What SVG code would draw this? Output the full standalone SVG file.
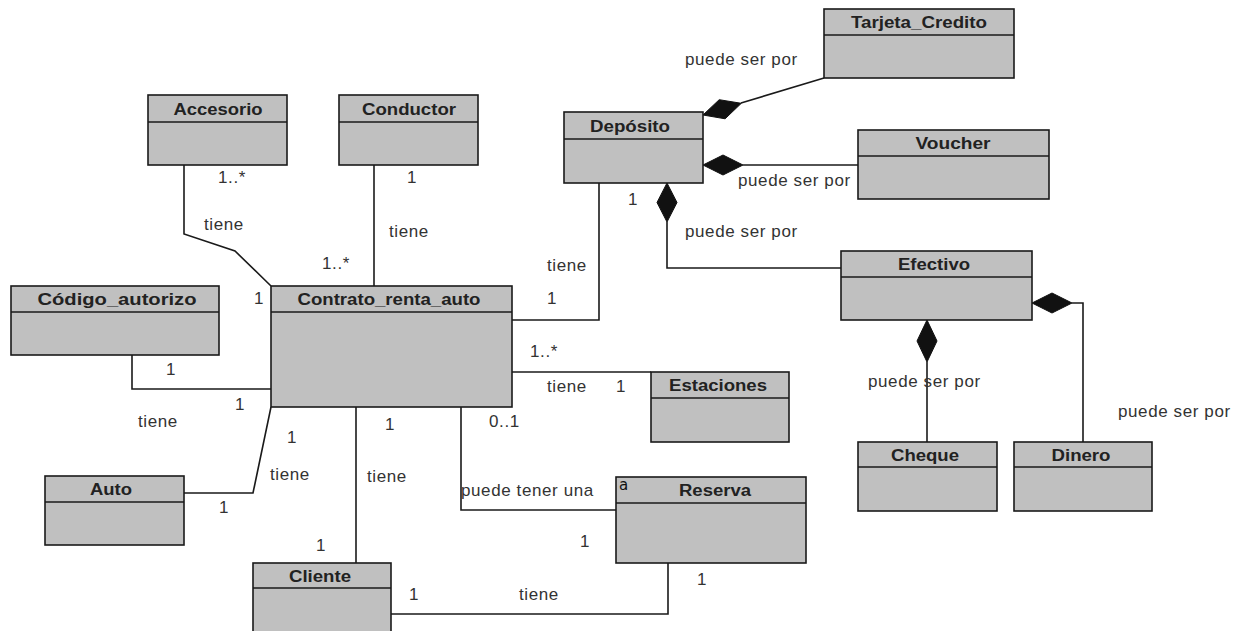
<svg xmlns="http://www.w3.org/2000/svg" width="1241" height="631" viewBox="0 0 1241 631">
  <style>
    .box { fill: #c0c0c0; stroke: #1a1a1a; stroke-width: 1.6; }
    .div { stroke: #1a1a1a; stroke-width: 1.6; }
    .name { font-family: "Liberation Sans", Arial, sans-serif; font-weight: bold; font-size: 16px; fill: #222; text-anchor: middle; }
    .lbl { font-family: "Liberation Sans", Arial, sans-serif; font-size: 17px; letter-spacing: 0.6px; fill: #333; }
    .edge { fill: none; stroke: #1a1a1a; stroke-width: 1.6; }
    .dia { fill: #111; stroke: #111; stroke-width: 1; }
  </style>
  <rect width="1241" height="631" fill="#ffffff"/>

  <!-- associations and compositions -->
  <g id="connectors">
    <polyline class="edge" points="184,165 184,234 235,251 271,286"/>
    <line class="edge" x1="374" y1="165" x2="374" y2="286"/>
    <polyline class="edge" points="132,355 132,389 271,389"/>
    <polyline class="edge" points="184,493 253,493 271,407"/>
    <line class="edge" x1="356" y1="407" x2="356" y2="563"/>
    <polyline class="edge" points="461,407 461,510 616,510"/>
    <polyline class="edge" points="391,614 668,614 668,563"/>
    <line class="edge" x1="512" y1="372" x2="651" y2="372"/>
    <polyline class="edge" points="512,320 599,320 599,183"/>
    <!-- Deposito compositions -->
    <line class="edge" x1="741" y1="103" x2="824" y2="78"/>
    <polygon class="dia" points="703,115 719.2,99.7 741.3,103.3 725.1,118.8"/>
    <line class="edge" x1="743" y1="165" x2="858" y2="165"/>
    <polygon class="dia" points="703,165 723,155 743,165 723,175"/>
    <polyline class="edge" points="667,222 667,268 841,268"/>
    <polygon class="dia" points="667,183 677,202.5 667,222 657,202.5"/>
    <!-- Efectivo compositions -->
    <line class="edge" x1="927" y1="362" x2="927" y2="442"/>
    <polygon class="dia" points="927,320 937,341 927,362 917,341"/>
    <polyline class="edge" points="1072,303 1083,303 1083,442"/>
    <polygon class="dia" points="1032,303 1052,293 1072,303 1052,313"/>
  </g>

  <!-- connector labels -->
  <g id="labels">
    <text class="lbl" x="218" y="183">1..*</text>
    <text class="lbl" x="204" y="230">tiene</text>
    <text class="lbl" x="254" y="304">1</text>
    <text class="lbl" x="407" y="183">1</text>
    <text class="lbl" x="389" y="237">tiene</text>
    <text class="lbl" x="322" y="269">1..*</text>
    <text class="lbl" x="547" y="271">tiene</text>
    <text class="lbl" x="547" y="304">1</text>
    <text class="lbl" x="530" y="357">1..*</text>
    <text class="lbl" x="547" y="392">tiene</text>
    <text class="lbl" x="616" y="392">1</text>
    <text class="lbl" x="489" y="427">0..1</text>
    <text class="lbl" x="166" y="375">1</text>
    <text class="lbl" x="235" y="410">1</text>
    <text class="lbl" x="138" y="427">tiene</text>
    <text class="lbl" x="287" y="443">1</text>
    <text class="lbl" x="270" y="480">tiene</text>
    <text class="lbl" x="219" y="513">1</text>
    <text class="lbl" x="385" y="430">1</text>
    <text class="lbl" x="367" y="482">tiene</text>
    <text class="lbl" x="316" y="551">1</text>
    <text class="lbl" x="461" y="496">puede tener una</text>
    <text class="lbl" x="580" y="547">1</text>
    <text class="lbl" x="409" y="600">1</text>
    <text class="lbl" x="519" y="600">tiene</text>
    <text class="lbl" x="697" y="585">1</text>
    <text class="lbl" x="685" y="65">puede ser por</text>
    <text class="lbl" x="738" y="186">puede ser por</text>
    <text class="lbl" x="628" y="205">1</text>
    <text class="lbl" x="685" y="237">puede ser por</text>
    <text class="lbl" x="868" y="387">puede ser por</text>
    <text class="lbl" x="1118" y="417">puede ser por</text>
  </g>

  <g id="Accesorio">
    <rect class="box" x="148" y="95" width="139" height="70"/>
    <line class="div" x1="148" y1="122" x2="287" y2="122"/>
    <text class="name" x="218" y="115" textLength="89" lengthAdjust="spacingAndGlyphs">Accesorio</text>
  </g>
  <g id="Conductor">
    <rect class="box" x="339" y="95" width="139" height="70"/>
    <line class="div" x1="339" y1="122" x2="478" y2="122"/>
    <text class="name" x="409" y="115" textLength="94" lengthAdjust="spacingAndGlyphs">Conductor</text>
  </g>
  <g id="Deposito">
    <rect class="box" x="564" y="112" width="139" height="71"/>
    <line class="div" x1="564" y1="139" x2="703" y2="139"/>
    <text class="name" x="630" y="132" textLength="80" lengthAdjust="spacingAndGlyphs">Depósito</text>
  </g>
  <g id="Tarjeta_Credito">
    <rect class="box" x="824" y="9" width="190" height="69"/>
    <line class="div" x1="824" y1="35" x2="1014" y2="35"/>
    <text class="name" x="919" y="28" textLength="136" lengthAdjust="spacingAndGlyphs">Tarjeta_Credito</text>
  </g>
  <g id="Voucher">
    <rect class="box" x="858" y="130" width="191" height="69"/>
    <line class="div" x1="858" y1="156" x2="1049" y2="156"/>
    <text class="name" x="953" y="149" textLength="75" lengthAdjust="spacingAndGlyphs">Voucher</text>
  </g>
  <g id="Efectivo">
    <rect class="box" x="841" y="251" width="191" height="69"/>
    <line class="div" x1="841" y1="277" x2="1032" y2="277"/>
    <text class="name" x="934" y="270" textLength="72" lengthAdjust="spacingAndGlyphs">Efectivo</text>
  </g>
  <g id="Cheque">
    <rect class="box" x="858" y="442" width="139" height="69"/>
    <line class="div" x1="858" y1="467" x2="997" y2="467"/>
    <text class="name" x="925" y="461" textLength="68" lengthAdjust="spacingAndGlyphs">Cheque</text>
  </g>
  <g id="Dinero">
    <rect class="box" x="1014" y="442" width="138" height="69"/>
    <line class="div" x1="1014" y1="467" x2="1152" y2="467"/>
    <text class="name" x="1081" y="461" textLength="59" lengthAdjust="spacingAndGlyphs">Dinero</text>
  </g>
  <g id="Codigo_autorizo">
    <rect class="box" x="11" y="286" width="208" height="69"/>
    <line class="div" x1="11" y1="312" x2="219" y2="312"/>
    <text class="name" x="117" y="305" textLength="159" lengthAdjust="spacingAndGlyphs">Código_autorizo</text>
  </g>
  <g id="Contrato_renta_auto">
    <rect class="box" x="271" y="286" width="241" height="121"/>
    <line class="div" x1="271" y1="312" x2="512" y2="312"/>
    <text class="name" x="389" y="305" textLength="183" lengthAdjust="spacingAndGlyphs">Contrato_renta_auto</text>
  </g>
  <g id="Estaciones">
    <rect class="box" x="651" y="372" width="138" height="70"/>
    <line class="div" x1="651" y1="398" x2="789" y2="398"/>
    <text class="name" x="718" y="391" textLength="98" lengthAdjust="spacingAndGlyphs">Estaciones</text>
  </g>
  <g id="Auto">
    <rect class="box" x="45" y="476" width="139" height="69"/>
    <line class="div" x1="45" y1="502" x2="184" y2="502"/>
    <text class="name" x="111" y="495" textLength="42" lengthAdjust="spacingAndGlyphs">Auto</text>
  </g>
  <g id="Reserva">
    <rect class="box" x="616" y="477" width="190" height="86"/>
    <line class="div" x1="616" y1="503" x2="806" y2="503"/>
    <text class="name" x="715" y="496" textLength="72" lengthAdjust="spacingAndGlyphs">Reserva</text>
    <text x="619" y="490" font-family="'DejaVu Sans', sans-serif" font-size="15" fill="#111">a</text>
  </g>
  <g id="Cliente">
    <rect class="box" x="253" y="563" width="138" height="72"/>
    <line class="div" x1="253" y1="588" x2="391" y2="588"/>
    <text class="name" x="320" y="582" textLength="62" lengthAdjust="spacingAndGlyphs">Cliente</text>
  </g>
</svg>
